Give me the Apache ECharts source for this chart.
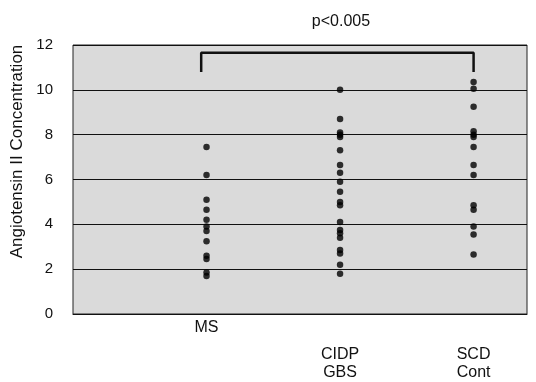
<!DOCTYPE html>
<html>
<head>
<meta charset="utf-8">
<script src="https://cdn.jsdelivr.net/npm/echarts@6/dist/echarts.min.js"></script>
<style>
  html, body { margin: 0; padding: 0; background: #fff; }
  #main { width: 536px; height: 382px; }
</style>
</head>
<body>
<div id="main"></div>
<script>
// group positions on the x axis and their labels
var groupPos = [1, 2, 3];
var groupNames = ['MS', 'CIDP\nGBS', 'SCD\nCont'];

// values
var msData = [7.45, 6.2, 5.1, 4.65, 4.2, 3.9, 3.7, 3.25, 2.6, 2.45, 1.85, 1.7];
var cidpData = [10.0, 8.7, 8.1, 8.0, 7.9, 7.3, 6.65, 6.3, 5.9, 5.45, 5.0, 4.85, 4.1, 3.75, 3.6, 3.4, 2.85, 2.7, 2.2, 1.8];
var scdData = [10.35, 10.05, 9.25, 8.15, 8.0, 7.9, 7.45, 6.65, 6.2, 4.85, 4.65, 3.9, 3.55, 2.65];

// significance bracket (x from MS to SCD, y legs/top)
var bracketX = [0.96, 3.0];
var bracketY = [10.8, 11.65];
var pLabel = 'p<0.005';

var myChart = echarts.init(document.getElementById('main'));

function toPoints(x, arr) {
  var out = [];
  for (var i = 0; i < arr.length; i++) {
    out.push([x, arr[i]]);
  }
  return out;
}

var bracket = [
  [bracketX[0], bracketY[0]],
  [bracketX[0], bracketY[1]],
  [bracketX[1], bracketY[1]],
  [bracketX[1], bracketY[0]]
];

var dotStyle = {
  type: 'scatter',
  symbol: 'circle',
  symbolSize: 6.5,
  itemStyle: { color: '#000' },
  silent: true
};

var option = {
  animation: false,
  textStyle: { fontFamily: 'Liberation Sans, Arial, sans-serif' },
  title: {
    text: pLabel,
    left: 336,
    top: 9,
    textAlign: 'center',
    textStyle: { fontSize: 16, fontWeight: 'normal', color: '#111' }
  },
  grid: {
    left: 73,
    right: 9,
    top: 45,
    bottom: 68,
    show: true,
    backgroundColor: '#dadada',
    borderColor: '#222',
    borderWidth: 1
  },
  xAxis: {
    type: 'value',
    min: 0,
    max: 3.4,
    splitLine: { show: false },
    axisLine: { show: true, onZero: false, lineStyle: { color: '#111', width: 1 } },
    axisTick: { show: false },
    axisLabel: {
      customValues: groupPos,
      margin: 5,
      color: '#111',
      formatter: function (v) {
        var name = groupNames[groupPos.indexOf(v)] || '';
        var parts = name.split('\n');
        if (parts.length === 1) {
          return '{t|' + parts[0] + '}';
        }
        return '{sp| }\n{t|' + parts[0] + '}\n{t|' + parts[1] + '}';
      },
      rich: {
        t: { fontSize: 16, lineHeight: 18, color: '#111' },
        sp: { fontSize: 2, height: 27, lineHeight: 27 }
      }
    }
  },
  yAxis: {
    type: 'value',
    min: 0,
    max: 12,
    interval: 2,
    name: 'Angiotensin II Concentration',
    nameLocation: 'middle',
    nameGap: 42,
    nameTextStyle: { fontSize: 17, color: '#111', padding: [0, 0, 0, 56] },
    axisLine: { show: false },
    axisTick: { show: false },
    axisLabel: { fontSize: 15, color: '#111', margin: 20 },
    splitLine: { lineStyle: { color: '#111', width: 1 } }
  },
  series: [
    Object.assign({ name: 'MS', data: toPoints(groupPos[0], msData) }, dotStyle),
    Object.assign({ name: 'CIDP', data: toPoints(groupPos[1], cidpData) }, dotStyle),
    Object.assign({ name: 'SCD', data: toPoints(groupPos[2], scdData) }, dotStyle),
    {
      type: 'line',
      data: bracket,
      showSymbol: false,
      lineStyle: { color: '#111', width: 2.5 },
      silent: true
    }
  ]
};

myChart.setOption(option);
</script>
</body>
</html>
